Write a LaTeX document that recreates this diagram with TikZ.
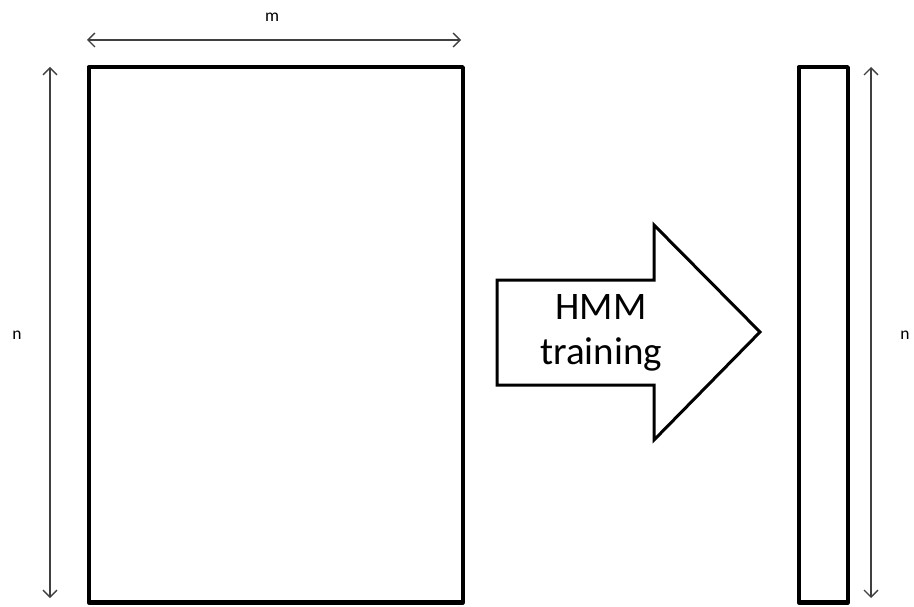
\documentclass[tikz,border=0pt]{standalone}
\usepackage{fontspec}
\setmainfont{Carlito}
\usetikzlibrary{arrows.meta}
\begin{document}
\begin{tikzpicture}[x=1pt,y=-1pt,
  matrixbox/.style={draw=black,line width=4.5pt,line join=round,fill=white},
  dimline/.style={draw=black!75,line width=1.3pt,{Straight Barb[length=7pt,width=14pt,line width=1.3pt]}-{Straight Barb[length=7pt,width=14pt,line width=1.3pt]}},
  dimlabel/.style={font=\fontsize{17.5}{20}\selectfont,inner sep=0pt},
  bigarrow/.style={draw=black,line width=3pt,line join=miter,fill=white}]
\useasboundingbox (0,0) rectangle (914,607);
% big matrix
\node[matrixbox,minimum width=374pt,minimum height=535pt,anchor=north west,inner sep=0pt] (big) at (86.5,65) {};
% small vector
\node[matrixbox,minimum width=49pt,minimum height=535pt,anchor=north west,inner sep=0pt] (small) at (796.5,65) {};
% dimension coordinates
\coordinate (mL) at (87,40);
\coordinate (mR) at (461,40);
\coordinate (nT) at (50,67);
\coordinate (nB) at (50,598);
\coordinate (rT) at (871,67);
\coordinate (rB) at (871,598);
\draw[dimline] (mL) -- (mR);
\draw[dimline] (nT) -- (nB);
\draw[dimline] (rT) -- (rB);
\node[dimlabel] (mlab) at (272,17) {m};
\node[dimlabel] (nlab) at (17,335) {n};
\node[dimlabel] (rlab) at (905,335) {n};
% HMM training arrow
\draw[bigarrow] (497,280) -- (654,280) -- (654,225) -- (760,332) -- (654,440) -- (654,385) -- (497,385) -- cycle;
\node[font=\fontsize{39}{45}\selectfont,align=center,inner sep=0pt] (hmm) at (601,333) {HMM\\training};
\end{tikzpicture}
\end{document}
